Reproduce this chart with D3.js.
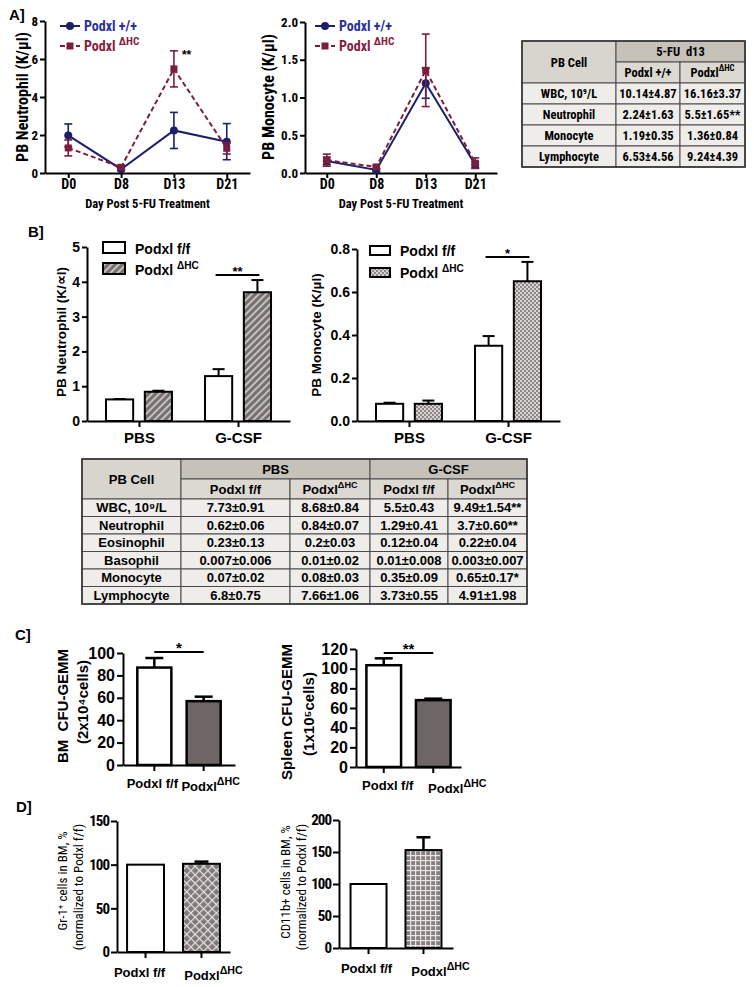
<!DOCTYPE html>
<html>
<head>
<meta charset="utf-8">
<script src="https://cdn.jsdelivr.net/npm/d3@7"></script>
<style>
body { margin: 0; background: #fff; }
svg { display: block; }
text { white-space: pre; }
</style>
</head>
<body>
<div id="fig"></div>
<script>
// ---- data ----
var days = ["D0", "D8", "D13", "D21"];
var neutWT = [1.98, 0.2, 2.24, 1.65], neutWTErr = [0.6, 0.08, 0.95, 0.95];
var neutKO = [1.32, 0.3, 5.48, 1.3], neutKOErr = [0.42, 0.1, 0.95, 0.3];
var monoWT = [0.16, 0.04, 1.19, 0.11], monoWTErr = [0.05, 0.02, 0.2, 0.04];
var monoKO = [0.17, 0.08, 1.36, 0.13], monoKOErr = [0.08, 0.02, 0.48, 0.07];

var tableACells = ["WBC, 10⁹/L", "Neutrophil", "Monocyte", "Lymphocyte"];
var tableAWT = ["10.14±4.87", "2.24±1.63", "1.19±0.35", "6.53±4.56"];
var tableAKO = ["16.16±3.37", "5.5±1.65**", "1.36±0.84", "9.24±4.39"];

var treatments = ["PBS", "G-CSF"];
var neutBff = [0.62, 1.29], neutBffErr = [0.01, 0.2];
var neutBko = [0.84, 3.7], neutBkoErr = [0.03, 0.35];
var monoBff = [0.08, 0.35], monoBffErr = [0.005, 0.045];
var monoBko = [0.08, 0.65], monoBkoErr = [0.015, 0.09];

var tableBCells = ["WBC, 10⁹/L", "Neutrophil", "Eosinophil", "Basophil", "Monocyte", "Lymphocyte"];
var tableBPbsFF = ["7.73±0.91", "0.62±0.06", "0.23±0.13", "0.007±0.006", "0.07±0.02", "6.8±0.75"];
var tableBPbsKO = ["8.68±0.84", "0.84±0.07", "0.2±0.03", "0.01±0.02", "0.08±0.03", "7.66±1.06"];
var tableBGcsfFF = ["5.5±0.43", "1.29±0.41", "0.12±0.04", "0.01±0.008", "0.35±0.09", "3.73±0.55"];
var tableBGcsfKO = ["9.49±1.54**", "3.7±0.60**", "0.22±0.04", "0.003±0.007", "0.65±0.17*", "4.91±1.98"];

var genotypes = ["Podxl f/f", "PodxlΔHC"];
var bmCFU = [87, 57], bmCFUErr = [8.5, 4];
var spleenCFU = [103.5, 68], spleenCFUErr = [7, 1.5];
var gr1 = [100, 101], gr1Err = [0, 2.5];
var cd11b = [100, 153], cd11bErr = [0, 20];

var NARROW = "'Liberation Sans Narrow','Arial Narrow','Roboto Condensed',sans-serif";
var SANS = "'Liberation Sans',Arial,sans-serif";
var NAVY = "#1d2068", MAROON = "#7a1d3e";

var svg = d3.select("#fig").append("svg")
    .attr("width", 754).attr("height", 987)
    .attr("font-family", SANS).attr("font-weight", "bold");
svg.append("rect").attr("width", 754).attr("height", 987).attr("fill", "#fff");
var defs = svg.append("defs");

// fill patterns for the knockout bars
var p = defs.append("pattern").attr("id", "stripes").attr("patternUnits", "userSpaceOnUse")
    .attr("width", 5).attr("height", 5).attr("patternTransform", "rotate(45)");
p.append("rect").attr("width", 5).attr("height", 5).attr("fill", "#777070");
p.append("line").attr("x1", 1).attr("x2", 1).attr("y1", 0).attr("y2", 5).attr("stroke", "#d9d5d5").attr("stroke-width", 1.6);

p = defs.append("pattern").attr("id", "checks").attr("patternUnits", "userSpaceOnUse").attr("width", 4).attr("height", 4);
p.append("rect").attr("width", 4).attr("height", 4).attr("fill", "#8d8787");
p.append("rect").attr("width", 2).attr("height", 2).attr("fill", "#d8d4d4");
p.append("rect").attr("x", 2).attr("y", 2).attr("width", 2).attr("height", 2).attr("fill", "#d8d4d4");

p = defs.append("pattern").attr("id", "diamonds").attr("patternUnits", "userSpaceOnUse")
    .attr("width", 6).attr("height", 6).attr("patternTransform", "rotate(45)");
p.append("rect").attr("width", 6).attr("height", 6).attr("fill", "#7e7878");
p.append("line").attr("x1", 0).attr("x2", 6).attr("y1", 0.6).attr("y2", 0.6).attr("stroke", "#e6e2e2").attr("stroke-width", 1.2);
p.append("line").attr("y1", 0).attr("y2", 6).attr("x1", 0.6).attr("x2", 0.6).attr("stroke", "#e6e2e2").attr("stroke-width", 1.2);

p = defs.append("pattern").attr("id", "grid").attr("patternUnits", "userSpaceOnUse").attr("width", 5).attr("height", 5);
p.append("rect").attr("width", 5).attr("height", 5).attr("fill", "#878080");
p.append("line").attr("x1", 0).attr("x2", 5).attr("y1", 0.6).attr("y2", 0.6).attr("stroke", "#e8e4e4").attr("stroke-width", 1.2);
p.append("line").attr("y1", 0).attr("y2", 5).attr("x1", 0.6).attr("x2", 0.6).attr("stroke", "#e8e4e4").attr("stroke-width", 1.2);

// split "ΔHC" into a superscript
function parts(s) {
  var i = s.indexOf("ΔHC");
  return i < 0 ? [{t: s}] : [{t: s.slice(0, i)}, {t: "ΔHC", sup: true}];
}

function rich(g, x, y, pieces, size, ratio) {
  ratio = ratio || 0.75;
  var t = g.append("text").attr("x", x).attr("y", y).attr("font-size", size);
  var shift = 0;
  pieces.forEach(function(pc) {
    var s = pc.sup ? -Math.round(size * 0.45) : 0;
    t.append("tspan").attr("dy", s - shift).attr("font-size", pc.sup ? size * ratio : size).text(pc.t);
    shift = s;
  });
  return t;
}

function styleAxis(g, family, size) {
  g.attr("font-family", family).attr("font-size", size).attr("font-weight", "bold");
  g.selectAll("path, line").attr("stroke", "#000").attr("stroke-width", 2);
  g.selectAll("text").attr("fill", "#000");
}

function yTitle(x, y, str, size, family, weight) {
  svg.append("text").attr("transform", "translate(" + x + "," + y + ") rotate(-90)")
    .attr("text-anchor", "middle").attr("font-size", size)
    .attr("font-family", family || SANS).attr("font-weight", weight || "bold").text(str);
}

function panelLabel(x, y, str) {
  svg.append("text").attr("x", x).attr("y", y).attr("font-size", 15).text(str);
}

// ---- line charts (panel A) ----
function lineChart(o) {
  var g = svg.append("g");
  var x = d3.scalePoint().domain(days).range([o.ax, o.axEnd]).padding(0.44);
  var y = d3.scaleLinear().domain([0, o.ymax]).range([o.y0, o.y1]);

  g.append("g").attr("transform", "translate(0," + o.y0 + ")")
    .call(d3.axisBottom(x).tickSize(5).tickSizeOuter(0).tickPadding(1))
    .call(styleAxis, NARROW, 14);
  g.append("g").attr("transform", "translate(" + o.ax + ",0)")
    .call(d3.axisLeft(y).tickValues(o.ticks).tickFormat(o.fmt).tickSize(5).tickSizeOuter(0).tickPadding(2))
    .call(styleAxis, NARROW, 13);

  o.series.forEach(function(s) {
    var eg = g.append("g").attr("stroke", s.color).attr("stroke-width", 1.6);
    days.forEach(function(d, i) {
      var cx = x(d), lo = y(Math.max(0, s.vals[i] - s.errs[i])), hi = y(s.vals[i] + s.errs[i]);
      eg.append("line").attr("x1", cx).attr("x2", cx).attr("y1", lo).attr("y2", hi);
      eg.append("line").attr("x1", cx - 4).attr("x2", cx + 4).attr("y1", hi).attr("y2", hi);
      eg.append("line").attr("x1", cx - 4).attr("x2", cx + 4).attr("y1", lo).attr("y2", lo);
    });
    g.append("path").datum(s.vals)
      .attr("fill", "none").attr("stroke", s.color).attr("stroke-width", 2)
      .attr("stroke-dasharray", s.dash)
      .attr("d", d3.line().x(function(v, i) { return x(days[i]); }).y(function(v) { return y(v); }));
    if (s.square) {
      g.selectAll(null).data(s.vals).join("rect")
        .attr("x", function(v, i) { return x(days[i]) - 3.5; })
        .attr("y", function(v) { return y(v) - 3.5; })
        .attr("width", 7).attr("height", 7).attr("fill", s.color);
    } else {
      g.selectAll(null).data(s.vals).join("circle")
        .attr("cx", function(v, i) { return x(days[i]); })
        .attr("cy", function(v) { return y(v); })
        .attr("r", 4).attr("fill", s.color);
    }
  });

  // legend
  o.series.forEach(function(s, i) {
    var ly = 26 + i * 20, lx = o.legX;
    g.append("line").attr("x1", lx).attr("x2", lx + 20).attr("y1", ly).attr("y2", ly)
      .attr("stroke", s.color).attr("stroke-width", 2).attr("stroke-dasharray", s.dash);
    if (s.square) g.append("rect").attr("x", lx + 6.5).attr("y", ly - 3.5).attr("width", 7).attr("height", 7).attr("fill", s.color);
    else g.append("circle").attr("cx", lx + 10).attr("cy", ly).attr("r", 4).attr("fill", s.color);
    rich(g, lx + 24, ly + 5, parts(s.name), 14, 0.8).attr("font-family", NARROW).attr("fill", s.text);
  });

  g.append("text").attr("x", (o.ax + o.axEnd) / 2).attr("y", 208).attr("text-anchor", "middle")
    .attr("font-family", NARROW).attr("font-size", 12.5).text("Day Post 5-FU Treatment");
  return {x: x, y: y, g: g};
}

var wtStyle = {name: "Podxl +/+", color: NAVY, text: "#2a2f9c", dash: null, square: false};
var koStyle = {name: "Podxl ΔHC", color: MAROON, text: "#85203f", dash: "5,3", square: true};

panelLabel(9, 20, "A]");
var a1 = lineChart({ax: 45, axEnd: 250, y0: 173, y1: 21, ymax: 8, ticks: [0, 2, 4, 6, 8], fmt: d3.format("d"), legX: 60,
  series: [Object.assign({vals: neutWT, errs: neutWTErr}, wtStyle), Object.assign({vals: neutKO, errs: neutKOErr}, koStyle)]});
a1.g.append("text").attr("x", a1.x("D13") + 8).attr("y", a1.y(neutKO[2] + neutKOErr[2]) + 8)
  .attr("font-size", 12).text("**");
yTitle(28, 97, "PB Neutrophil (K/µl)", 16, NARROW);

var a2 = lineChart({ax: 305, axEnd: 497, y0: 173, y1: 22, ymax: 2, ticks: [0, 0.5, 1, 1.5, 2], fmt: d3.format(".1f"), legX: 315,
  series: [Object.assign({vals: monoWT, errs: monoWTErr}, wtStyle), Object.assign({vals: monoKO, errs: monoKOErr}, koStyle)]});
yTitle(274, 97, "PB Monocyte (K/µl)", 16, NARROW);

// ---- tables ----
function table(o) {
  var g = svg.append("g").attr("font-family", o.family).attr("font-size", o.size);
  o.cells.forEach(function(c) {
    var x0 = o.xs[c.c0], x1 = o.xs[c.c1], y0 = o.ys[c.r0], y1 = o.ys[c.r1];
    g.append("rect").attr("x", x0).attr("y", y0).attr("width", x1 - x0).attr("height", y1 - y0)
      .attr("fill", c.fill).attr("stroke", "#4a4a4a").attr("stroke-width", 1);
    rich(g, (x0 + x1) / 2, (y0 + y1) / 2 + o.size * 0.36, c.parts, o.size, 0.7).attr("text-anchor", "middle");
  });
  var xs = o.xs, ys = o.ys;
  g.append("rect").attr("x", xs[0]).attr("y", ys[0]).attr("width", xs[xs.length - 1] - xs[0])
    .attr("height", ys[ys.length - 1] - ys[0]).attr("fill", "none").attr("stroke", "#333").attr("stroke-width", 1.6);
}

var HEAD1 = "#c6c2ba", HEAD0 = "#d8d5cf", HEAD2 = "#dcd9d3", BODY = "#eeedea";
var cellsA = [
  {c0: 0, c1: 1, r0: 0, r1: 2, fill: HEAD0, parts: [{t: "PB Cell"}]},
  {c0: 1, c1: 3, r0: 0, r1: 1, fill: HEAD1, parts: [{t: "5-FU  d13"}]},
  {c0: 1, c1: 2, r0: 1, r1: 2, fill: HEAD2, parts: [{t: "Podxl +/+"}]},
  {c0: 2, c1: 3, r0: 1, r1: 2, fill: HEAD2, parts: parts("PodxlΔHC")}
];
tableACells.forEach(function(name, i) {
  cellsA.push({c0: 0, c1: 1, r0: i + 2, r1: i + 3, fill: BODY, parts: [{t: name}]});
  cellsA.push({c0: 1, c1: 2, r0: i + 2, r1: i + 3, fill: BODY, parts: [{t: tableAWT[i]}]});
  cellsA.push({c0: 2, c1: 3, r0: i + 2, r1: i + 3, fill: BODY, parts: [{t: tableAKO[i]}]});
});
table({xs: [522, 616, 680, 745], ys: [41, 62, 83, 104, 125, 146, 167], family: NARROW, size: 12.5, cells: cellsA});

// ---- grouped bar charts (panel B) ----
function groupedChart(o) {
  var g = svg.append("g");
  var x = d3.scalePoint().domain(treatments).range([o.ax, o.axEnd]).padding(0.525);
  var xi = d3.scaleBand().domain(["ff", "ko"]).range([-33, 33]).paddingInner(0.3);
  var y = d3.scaleLinear().domain([0, o.ymax]).range([o.y0, o.y1]);
  var series = [
    {key: "ff", vals: o.ff, errs: o.ffErr, fill: "#fff"},
    {key: "ko", vals: o.ko, errs: o.koErr, fill: o.koFill}
  ];
  series.forEach(function(s) {
    g.selectAll(null).data(s.vals).join("rect")
      .attr("x", function(v, i) { return x(treatments[i]) + xi(s.key); })
      .attr("y", function(v) { return y(v); })
      .attr("width", xi.bandwidth())
      .attr("height", function(v) { return o.y0 - y(v); })
      .attr("fill", s.fill).attr("stroke", "#000").attr("stroke-width", 2);
    s.vals.forEach(function(v, i) {
      var cx = x(treatments[i]) + xi(s.key) + xi.bandwidth() / 2, hi = y(v + s.errs[i]);
      g.append("line").attr("x1", cx).attr("x2", cx).attr("y1", y(v)).attr("y2", hi).attr("stroke", "#000").attr("stroke-width", 2);
      g.append("line").attr("x1", cx - 6).attr("x2", cx + 6).attr("y1", hi).attr("y2", hi).attr("stroke", "#000").attr("stroke-width", 2);
    });
  });
  g.append("g").attr("transform", "translate(0," + o.y0 + ")")
    .call(d3.axisBottom(x).tickSize(6).tickSizeOuter(0).tickPadding(5))
    .call(styleAxis, SANS, 15);
  g.append("g").attr("transform", "translate(" + o.ax + ",0)")
    .call(d3.axisLeft(y).tickValues(o.ticks).tickFormat(o.fmt).tickSize(5).tickSizeOuter(0).tickPadding(2))
    .call(styleAxis, SANS, 14);

  // legend
  var lg = o.legend;
  [["#fff", "Podxl f/f"], [o.koFill, "Podxl ΔHC"]].forEach(function(d, i) {
    g.append("rect").attr("x", lg.x).attr("y", lg.y + i * lg.dy).attr("width", lg.w).attr("height", lg.h)
      .attr("fill", d[0]).attr("stroke", "#000").attr("stroke-width", 2);
    rich(g, lg.tx, lg.y + i * lg.dy + lg.h + 0.5, parts(d[1]), 14, 0.72);
  });

  // significance bar over G-CSF
  var x0 = x("G-CSF") + xi("ff") + xi.bandwidth() / 2 - 3, x1 = x("G-CSF") + xi("ko") + xi.bandwidth() / 2 + 2;
  g.append("line").attr("x1", x0).attr("x2", x1).attr("y1", o.sigY).attr("y2", o.sigY).attr("stroke", "#000").attr("stroke-width", 2);
  g.append("text").attr("x", (x0 + x1) / 2).attr("y", o.sigY + 1).attr("text-anchor", "middle").attr("font-size", 13).text(o.sig);
}

panelLabel(28, 237, "B]");
groupedChart({ax: 87, axEnd: 290, y0: 421, y1: 247, ymax: 5, ticks: [0, 1, 2, 3, 4, 5], fmt: d3.format("d"),
  ff: neutBff, ffErr: neutBffErr, ko: neutBko, koErr: neutBkoErr, koFill: "url(#stripes)",
  legend: {x: 103, y: 242, w: 22, h: 11, dy: 21, tx: 135}, sigY: 275, sig: "**"});
yTitle(66, 332, "PB Neutrophil (K/∝l)", 13.5);

groupedChart({ax: 357, axEnd: 560, y0: 421, y1: 249, ymax: 0.8, ticks: [0, 0.2, 0.4, 0.6, 0.8], fmt: d3.format(".1f"),
  ff: monoBff, ffErr: monoBffErr, ko: monoBko, koErr: monoBkoErr, koFill: "url(#checks)",
  legend: {x: 370, y: 246, w: 20, h: 9, dy: 22, tx: 400}, sigY: 257, sig: "*"});
yTitle(321, 335, "PB Monocyte (K/µl)", 13.5);

var cellsB = [
  {c0: 0, c1: 1, r0: 0, r1: 2, fill: HEAD0, parts: [{t: "PB Cell"}]},
  {c0: 1, c1: 3, r0: 0, r1: 1, fill: HEAD1, parts: [{t: "PBS"}]},
  {c0: 3, c1: 5, r0: 0, r1: 1, fill: HEAD1, parts: [{t: "G-CSF"}]},
  {c0: 1, c1: 2, r0: 1, r1: 2, fill: HEAD2, parts: [{t: "Podxl f/f"}]},
  {c0: 2, c1: 3, r0: 1, r1: 2, fill: HEAD2, parts: parts("PodxlΔHC")},
  {c0: 3, c1: 4, r0: 1, r1: 2, fill: HEAD2, parts: [{t: "Podxl f/f"}]},
  {c0: 4, c1: 5, r0: 1, r1: 2, fill: HEAD2, parts: parts("PodxlΔHC")}
];
tableBCells.forEach(function(name, i) {
  [[name], [tableBPbsFF[i]], [tableBPbsKO[i]], [tableBGcsfFF[i]], [tableBGcsfKO[i]]].forEach(function(v, c) {
    cellsB.push({c0: c, c1: c + 1, r0: i + 2, r1: i + 3, fill: BODY, parts: [{t: v[0]}]});
  });
});
table({xs: [82, 181, 290, 370, 448, 527], ys: [459, 479, 499, 516.5, 534, 551.5, 569, 586.5, 604],
  family: SANS, size: 13, cells: cellsB});

// ---- single bar charts (panels C and D) ----
function barChart(o) {
  var g = svg.append("g");
  var x = d3.scaleBand().domain(genotypes).range([o.ax, o.axEnd]).paddingInner(o.pi).paddingOuter(o.po);
  var y = d3.scaleLinear().domain([0, o.ymax]).range([o.y0, o.y1]);
  g.selectAll(null).data(o.vals).join("rect")
    .attr("x", function(v, i) { return x(genotypes[i]); })
    .attr("y", function(v) { return y(v); })
    .attr("width", x.bandwidth())
    .attr("height", function(v) { return o.y0 - y(v); })
    .attr("fill", function(v, i) { return o.fills[i]; })
    .attr("stroke", "#000").attr("stroke-width", o.barStroke || 2.5);
  o.vals.forEach(function(v, i) {
    if (!o.errs[i]) return;
    var cx = x(genotypes[i]) + x.bandwidth() / 2, hi = y(v + o.errs[i]);
    g.append("line").attr("x1", cx).attr("x2", cx).attr("y1", y(v)).attr("y2", hi).attr("stroke", "#000").attr("stroke-width", 2.5);
    g.append("line").attr("x1", cx - o.cap).attr("x2", cx + o.cap).attr("y1", hi).attr("y2", hi).attr("stroke", "#000").attr("stroke-width", 2.5);
  });
  g.append("g").attr("transform", "translate(0," + o.y0 + ")")
    .call(d3.axisBottom(x).tickFormat("").tickSize(6).tickSizeOuter(0))
    .call(styleAxis, SANS, 13);
  g.append("g").attr("transform", "translate(" + o.ax + ",0)")
    .call(d3.axisLeft(y).tickValues(o.ticks).tickSize(6).tickSizeOuter(0).tickPadding(2))
    .call(styleAxis, o.tickFamily, o.tickSize);
  g.selectAll(".tick text").attr("letter-spacing", o.tickSpacing || 0);
  genotypes.forEach(function(name, i) {
    rich(g, x(name) + x.bandwidth() / 2 + o.labelDx[i], o.labelY + (i ? 3 : 0), parts(name), 13, 0.82)
      .attr("text-anchor", "middle");
  });
  if (o.sig) {
    var x0 = x(genotypes[0]) + x.bandwidth() / 2, x1 = x(genotypes[1]) + x.bandwidth() / 2;
    g.append("line").attr("x1", x0).attr("x2", x1).attr("y1", o.sigY).attr("y2", o.sigY).attr("stroke", "#000").attr("stroke-width", 2);
    g.append("text").attr("x", (x0 + x1) / 2).attr("y", o.sigY + 1).attr("text-anchor", "middle").attr("font-size", 15).text(o.sig);
  }
}

panelLabel(15, 640, "C]");
barChart({ax: 123, axEnd: 235, pi: 0.31, po: 0.29, y0: 765, y1: 653, ymax: 100, ticks: [0, 20, 40, 60, 80, 100],
  vals: bmCFU, errs: bmCFUErr, fills: ["#fff", "#6e6565"], cap: 9, tickFamily: SANS, tickSize: 16,
  labelY: 788, labelDx: [-2, 7], sig: "*", sigY: 652});
yTitle(68, 706, "BM  CFU-GEMM", 15);
yTitle(88, 702, "(2x10⁴cells)", 15);

barChart({ax: 356, axEnd: 461, pi: 0.3, po: 0.21, y0: 767, y1: 649, ymax: 120, ticks: [0, 20, 40, 60, 80, 100, 120],
  vals: spleenCFU, errs: spleenCFUErr, fills: ["#fff", "#6e6565"], cap: 9, tickFamily: SANS, tickSize: 16,
  labelY: 790, labelDx: [4, 24], sig: "**", sigY: 653});
yTitle(292, 712, "Spleen CFU-GEMM", 15);
yTitle(314, 714, "(1x10⁵cells)", 15);

panelLabel(16, 812, "D]");
barChart({ax: 117, axEnd: 230, pi: 0.34, po: 0.18, y0: 952, y1: 821, ymax: 150, ticks: [0, 50, 100, 150],
  vals: gr1, errs: gr1Err, fills: ["#fff", "url(#diamonds)"], cap: 7, barStroke: 2, tickFamily: NARROW, tickSize: 15,
  tickSpacing: -1, labelY: 977, labelDx: [-6, 12]});
yTitle(67, 881, "Gr-1⁺ cells in BM, %", 13, NARROW, "normal");
yTitle(83, 887, "(normalized to Podxl f/f)", 13, NARROW, "normal");

barChart({ax: 339, axEnd: 453, pi: 0.345, po: 0.21, y0: 948, y1: 820, ymax: 200, ticks: [0, 50, 100, 150, 200],
  vals: cd11b, errs: cd11bErr, fills: ["#fff", "url(#grid)"], cap: 7, barStroke: 2, tickFamily: NARROW, tickSize: 15,
  tickSpacing: -1, labelY: 973, labelDx: [-2, 17]});
yTitle(290, 882, "CD11b+ cells in BM, %", 13, NARROW, "normal");
yTitle(306, 887, "(normalized to Podxl f/f)", 13, NARROW, "normal");
</script>
</body>
</html>
